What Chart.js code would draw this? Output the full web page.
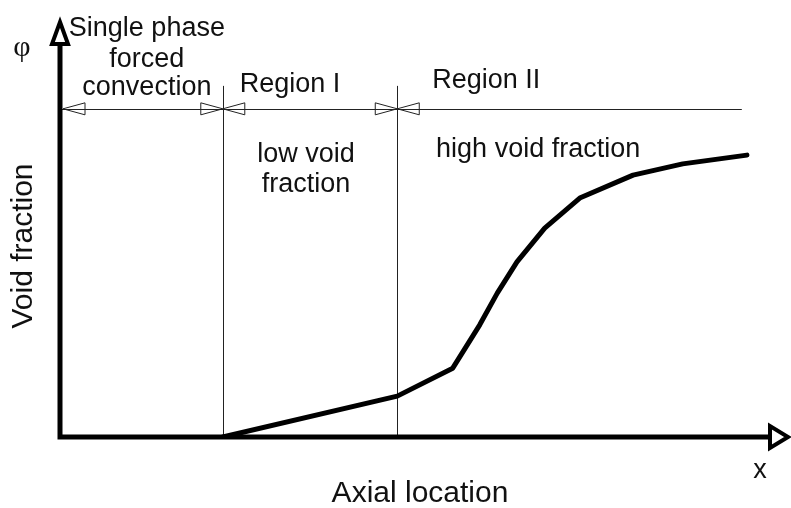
<!DOCTYPE html>
<html>
<head>
<meta charset="utf-8">
<script src="https://cdn.jsdelivr.net/npm/chart.js@4"></script>
<style>
  body { margin: 0; background: #fff; }
  #box { width: 791px; height: 508px; }
</style>
</head>
<body>
<div id="box"><canvas id="wykres"></canvas></div>
<script>
// axial location (0..100) and void fraction (0..100)
const polozenie = [22.3, 46.2, 53.8, 57.5, 59.9, 62.6, 66.4, 71.2, 78.5, 85.3, 94.1];
const udzialPary = [0, 9.8, 16.5, 26.9, 34.5, 42.0, 50.1, 57.3, 62.8, 65.5, 67.6];

// region boundaries on the x axis
const granice = [0, 22.3, 46.2];
const koniecWymiaru = 93.4;   // where the dimension line stops
const poziomWymiaru = 78.7;   // height of dimension line
const gornaKrawedz = 84.2;    // top of the extension lines

const opisyObszarow = [
  { linie: ['Single phase', 'forced', 'convection'], x: 11.9, y: [96.2, 88.8, 81.9] },
  { linie: ['Region I'], x: 31.5, y: [82.7] },
  { linie: ['Region II'], x: 58.4, y: [83.7] },
  { linie: ['low void', 'fraction'], x: 33.7, y: [65.9, 58.7] },
  { linie: ['high void fraction'], x: 65.5, y: [67.1] }
];

const tytulX = 'Axial location';
const tytulY = 'Void fraction';

// open triangle arrow head
function grot(ctx, tx, ty, dx, dy, dl, pol, grubosc) {
  const nx = -dy, ny = dx;
  ctx.beginPath();
  ctx.moveTo(tx, ty);
  ctx.lineTo(tx - dx * dl + nx * pol, ty - dy * dl + ny * pol);
  ctx.lineTo(tx - dx * dl - nx * pol, ty - dy * dl - ny * pol);
  ctx.closePath();
  ctx.fillStyle = '#fff';
  ctx.fill();
  ctx.lineWidth = grubosc;
  ctx.strokeStyle = '#000';
  ctx.stroke();
}

const rysunek = {
  id: 'rysunek',
  beforeDatasetsDraw(chart) {
    const ctx = chart.ctx;
    const sx = chart.scales.x, sy = chart.scales.y;
    const x0 = sx.getPixelForValue(0), y0 = sy.getPixelForValue(0);
    const xMax = sx.getPixelForValue(100), yMax = sy.getPixelForValue(100);
    ctx.save();
    ctx.lineJoin = 'miter';

    // thin extension lines and dimension line
    ctx.strokeStyle = '#222';
    ctx.lineWidth = 1;
    const yw = sy.getPixelForValue(poziomWymiaru);
    const yg = sy.getPixelForValue(gornaKrawedz);
    granice.slice(1).forEach(g => {
      const px = Math.round(sx.getPixelForValue(g)) + 0.5;
      ctx.beginPath();
      ctx.moveTo(px, y0);
      ctx.lineTo(px, yg);
      ctx.stroke();
    });
    ctx.beginPath();
    ctx.moveTo(x0, Math.round(yw) + 0.5);
    ctx.lineTo(sx.getPixelForValue(koniecWymiaru), Math.round(yw) + 0.5);
    ctx.stroke();

    // small dimension arrows
    ctx.save();
    const malaStrzalka = (tx, kier) => {
      ctx.beginPath();
      ctx.moveTo(tx, yw);
      ctx.lineTo(tx - kier * 22, yw - 6);
      ctx.lineTo(tx - kier * 22, yw + 6);
      ctx.closePath();
      ctx.lineWidth = 1;
      ctx.strokeStyle = '#222';
      ctx.stroke();
    };
    granice.forEach((g, i) => {
      const px = sx.getPixelForValue(g) + (i === 0 ? 3 : 0);
      if (i > 0) malaStrzalka(px, 1);
      malaStrzalka(px, -1);
    });
    ctx.restore();

    // thick axes with open arrow heads
    ctx.strokeStyle = '#000';
    ctx.lineWidth = 5;
    ctx.lineCap = 'square';
    ctx.beginPath();
    ctx.moveTo(x0, yMax + 22);
    ctx.lineTo(x0, y0);
    ctx.lineTo(xMax - 18, y0);
    ctx.stroke();
    ctx.lineCap = 'butt';
    grot(ctx, x0, yMax + 2, 0, -1, 22, 8, 4);
    grot(ctx, xMax - 2, y0, 1, 0, 18, 11, 4);

    // texts
    ctx.fillStyle = '#111';
    ctx.textAlign = 'center';
    ctx.textBaseline = 'alphabetic';
    ctx.font = '27px "Liberation Sans", Arial, sans-serif';
    opisyObszarow.forEach(o => {
      o.linie.forEach((t, k) => {
        ctx.fillText(t, sx.getPixelForValue(o.x), sy.getPixelForValue(o.y[k]));
      });
    });
    ctx.font = '30px "Liberation Sans", Arial, sans-serif';
    ctx.fillText(tytulX, 420, 502);
    ctx.font = '27px "Liberation Sans", Arial, sans-serif';
    ctx.fillText('x', 760, 478);
    ctx.font = '30px "Liberation Serif", "DejaVu Serif", serif';
    ctx.fillText('φ', 22, 56);
    ctx.save();
    ctx.translate(24, 246);
    ctx.rotate(-Math.PI / 2);
    ctx.textBaseline = 'middle';
    ctx.font = '30px "Liberation Sans", Arial, sans-serif';
    ctx.fillText(tytulY, 0, 0);
    ctx.restore();

    ctx.restore();
  }
};

new Chart(document.getElementById('wykres'), {
  type: 'scatter',
  data: {
    datasets: [{
      label: tytulY,
      data: polozenie.map((x, i) => ({ x: x, y: udzialPary[i] })),
      showLine: true,
      borderColor: '#000',
      borderWidth: 5,
      borderJoinStyle: 'round',
      borderCapStyle: 'round',
      pointRadius: 0,
      tension: 0
    }]
  },
  options: {
    responsive: true,
    maintainAspectRatio: false,
    animation: false,
    layout: { padding: { left: 60, right: 1, top: 20, bottom: 71 } },
    scales: {
      x: { type: 'linear', min: 0, max: 100, display: false },
      y: { type: 'linear', min: 0, max: 100, display: false }
    },
    plugins: {
      legend: { display: false },
      tooltip: { enabled: false }
    }
  },
  plugins: [rysunek]
});
</script>
</body>
</html>
